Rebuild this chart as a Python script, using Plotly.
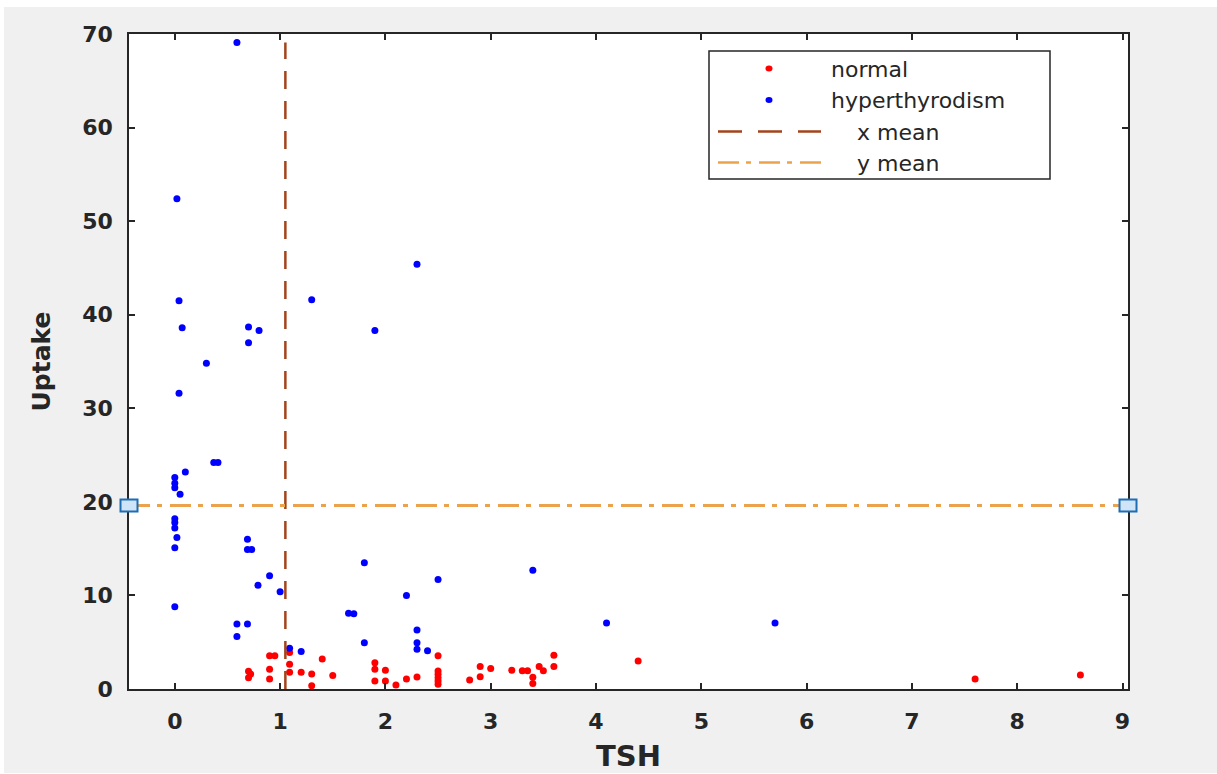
import plotly.graph_objects as go

# TSH vs radioactive iodine uptake, by diagnosis group
normal_tsh = [0.90, 0.95, 1.09, 0.70, 0.72, 0.70, 0.90, 0.90, 1.09, 1.09, 1.20, 1.30,
              1.30, 1.40, 1.50, 1.90, 1.90, 2.00, 1.90, 2.00, 2.10, 2.20, 2.30, 2.50,
              2.50, 2.50, 2.50, 2.50, 2.50, 2.80, 2.90, 2.90, 3.00, 3.20, 3.30, 3.35,
              3.40, 3.40, 3.46, 3.50, 3.60, 3.60, 4.40, 7.60, 8.60]
normal_uptake = [3.56, 3.56, 3.90, 1.90, 1.60, 1.20, 2.10, 1.07, 2.64, 1.78, 1.78, 1.60,
                 0.35, 3.20, 1.45, 2.80, 2.10, 2.00, 0.85, 0.85, 0.43, 1.07, 1.28, 3.56,
                 1.92, 1.57, 1.21, 0.85, 0.50, 0.96, 1.30, 2.40, 2.20, 2.00, 1.96, 1.96,
                 1.25, 0.60, 2.40, 1.96, 2.40, 3.60, 3.00, 1.07, 1.50]

hyper_tsh = [0.59, 0.02, 2.30, 0.04, 1.30, 0.07, 0.70, 0.80, 1.90, 0.70, 0.30, 0.04,
             0.37, 0.41, 0.10, 0.00, 0.00, 0.00, 0.05, 0.00, 0.00, 0.00, 0.02, 0.00,
             0.69, 0.69, 0.73, 0.90, 0.79, 1.00, 0.00, 0.59, 0.69, 0.59, 1.09, 1.20,
             1.80, 1.65, 1.70, 1.80, 2.20, 2.30, 2.30, 2.30, 2.40, 2.50, 3.40, 4.10,
             5.70]
hyper_uptake = [69.1, 52.4, 45.4, 41.5, 41.6, 38.6, 38.7, 38.3, 38.3, 37.0, 34.8, 31.6,
                24.2, 24.2, 23.2, 22.6, 22.0, 21.5, 20.8, 18.2, 17.8, 17.2, 16.2, 15.1,
                16.0, 14.9, 14.9, 12.1, 11.1, 10.4, 8.8, 6.95, 6.95, 5.6, 4.35, 4.0,
                13.5, 8.1, 8.05, 4.95, 10.0, 6.3, 4.95, 4.25, 4.1, 11.7, 12.7, 7.05,
                7.05]

X_MEAN = 1.05
Y_MEAN = 19.6

x_ticks = list(range(0, 10))
y_ticks = list(range(0, 80, 10))
X_RANGE = [-0.435, 9.052]
Y_RANGE = [0, 70]

legend_labels = ["normal", "hyperthyrodism", "x mean", "y mean"]

RED = "#ff0000"
BLUE = "#0000ff"
XMEAN_COLOR = "#a3441c"
YMEAN_COLOR = "#eca24a"
INK = "#262626"
XMEAN_DASH = "18px,12px"
YMEAN_DASH = "21px,7px,5px,8px"

fig = go.Figure()

fig.add_trace(go.Scatter(x=normal_tsh, y=normal_uptake, mode="markers",
                         marker=dict(color=RED, size=7, line=dict(width=0)),
                         name=legend_labels[0], showlegend=False))
fig.add_trace(go.Scatter(x=hyper_tsh, y=hyper_uptake, mode="markers",
                         marker=dict(color=BLUE, size=7, line=dict(width=0)),
                         name=legend_labels[1], showlegend=False))

all_uptake = normal_uptake + hyper_uptake
fig.add_trace(go.Scatter(x=[X_MEAN, X_MEAN], y=[0, max(all_uptake)], mode="lines",
                         line=dict(color=XMEAN_COLOR, width=2.5, dash=XMEAN_DASH),
                         name=legend_labels[2], showlegend=False))
fig.add_trace(go.Scatter(x=X_RANGE, y=[Y_MEAN, Y_MEAN], mode="lines",
                         line=dict(color=YMEAN_COLOR, width=3, dash=YMEAN_DASH),
                         name=legend_labels[3], showlegend=False))

shapes = []
# end-point handles on the y-mean line
for px_anchor in (0, 1):
    shapes.append(dict(type="rect", xref="paper", yref="y",
                       xsizemode="pixel", xanchor=px_anchor, x0=-8.5, x1=8.5,
                       ysizemode="pixel", yanchor=Y_MEAN, y0=-6, y1=6,
                       fillcolor="#cfe4f6", line=dict(color="#1c6db3", width=2),
                       layer="above"))

# legend box, drawn in paper coordinates (plot area is 999 x 655 px)
PW, PH = 999.0, 655.0
def px_x(p):
    return (p - 129) / PW
def px_y(p):
    return (689 - p) / PH

shapes.append(dict(type="rect", xref="paper", yref="paper",
                   x0=px_x(709), x1=px_x(1050), y0=px_y(179), y1=px_y(51),
                   fillcolor="white", line=dict(color=INK, width=1.5), layer="above"))
rows = [68.5, 100, 131.5, 162.5]
for label_row, color in zip(rows[:2], [RED, BLUE]):
    shapes.append(dict(type="circle", xref="paper", yref="paper",
                       xsizemode="pixel", xanchor=px_x(769), x0=-3.5, x1=3.5,
                       ysizemode="pixel", yanchor=px_y(label_row), y0=-3, y1=3,
                       fillcolor=color, line=dict(width=0), layer="above"))
shapes.append(dict(type="line", xref="paper", yref="paper",
                   x0=px_x(718), x1=px_x(821), y0=px_y(rows[2]), y1=px_y(rows[2]),
                   line=dict(color=XMEAN_COLOR, width=2.5, dash="24px,16px"), layer="above"))
shapes.append(dict(type="line", xref="paper", yref="paper",
                   x0=px_x(718), x1=px_x(821), y0=px_y(rows[3]), y1=px_y(rows[3]),
                   line=dict(color=YMEAN_COLOR, width=2.5, dash=YMEAN_DASH), layer="above"))

# white page margin around the grey figure
shapes.append(dict(type="rect", xref="paper", yref="paper", x0=-0.2, x1=1.2,
                   y0=px_y(7), y1=px_y(-10), fillcolor="white", line=dict(width=0), layer="above"))
shapes.append(dict(type="rect", xref="paper", yref="paper", x0=px_x(-10), x1=px_x(4),
                   y0=px_y(800), y1=px_y(-10), fillcolor="white", line=dict(width=0), layer="above"))
shapes.append(dict(type="rect", xref="paper", yref="paper", x0=-0.2, x1=1.2,
                   y0=px_y(800), y1=px_y(773), fillcolor="white", line=dict(width=0), layer="above"))

legend_font = dict(family="DejaVu Sans", size=22, color=INK)
annotations = []
text_x = [829, 829, 855, 855]
for label, row, tx in zip(legend_labels, rows, text_x):
    annotations.append(dict(xref="paper", yref="paper", x=px_x(tx), y=px_y(row + 1),
                            text=label, showarrow=False, xanchor="left", yanchor="middle",
                            font=legend_font))

title_font = dict(family="DejaVu Sans", size=29, color=INK, weight="bold")
annotations.append(dict(xref="paper", yref="paper", x=0.5, y=px_y(756), text="TSH",
                        showarrow=False, xanchor="center", yanchor="middle", font=title_font))
annotations.append(dict(xref="paper", yref="paper", x=px_x(41), y=0.5, text="Uptake",
                        textangle=-90, showarrow=False, xanchor="center", yanchor="middle",
                        font=dict(family="DejaVu Sans", size=25, color=INK, weight="bold")))

tick_font = dict(family="DejaVu Sans", size=22, color=INK, weight="bold")
axis_common = dict(showgrid=False, zeroline=False, showline=True, linecolor=INK,
                   linewidth=1.5, mirror="ticks", ticks="inside", ticklen=6,
                   tickwidth=1.5, tickcolor=INK, tickfont=tick_font)

fig.update_layout(
    width=1217, height=774,
    margin=dict(l=129, r=89, t=34, b=85, pad=0),
    paper_bgcolor="#f0f0f0", plot_bgcolor="white",
    showlegend=False,
    xaxis=dict(range=X_RANGE, tickvals=x_ticks, ticklabelstandoff=12, **axis_common),
    yaxis=dict(range=Y_RANGE, tickvals=y_ticks, ticklabelstandoff=10, **axis_common),
    shapes=shapes, annotations=annotations,
)

fig.write_html("out.html")
